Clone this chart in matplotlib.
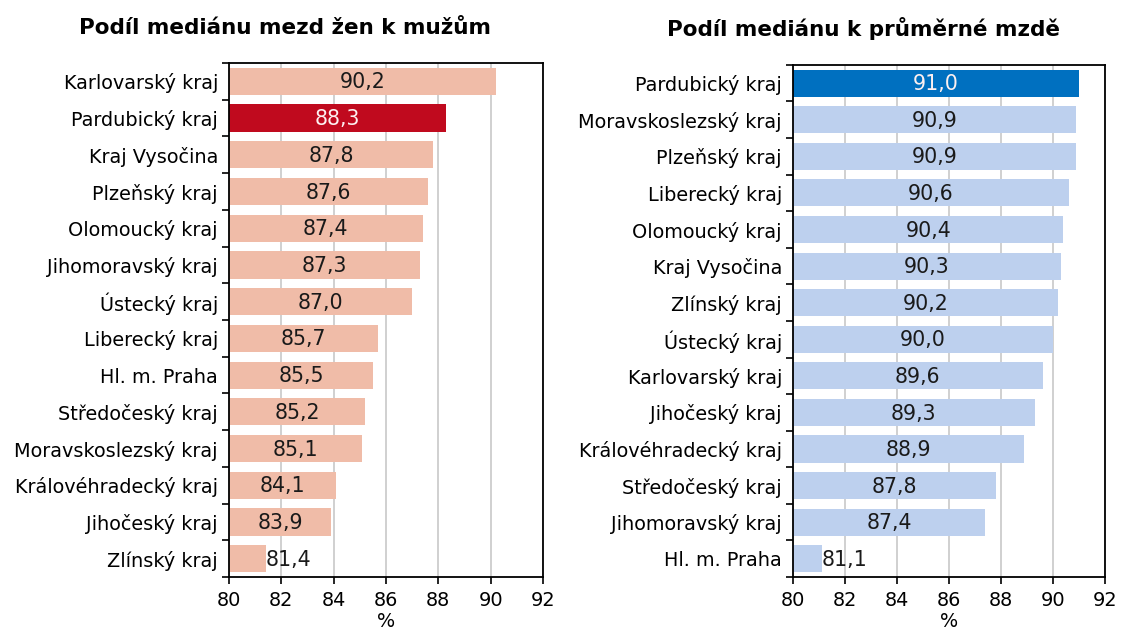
import matplotlib.pyplot as plt
import numpy as np

# Podíl mediánu mezd žen k mužům
kraje_l = ["Karlovarský kraj", "Pardubický kraj", "Kraj Vysočina", "Plzeňský kraj",
           "Olomoucký kraj", "Jihomoravský kraj", "Ústecký kraj", "Liberecký kraj",
           "Hl. m. Praha", "Středočeský kraj", "Moravskoslezský kraj",
           "Královéhradecký kraj", "Jihočeský kraj", "Zlínský kraj"]
hodnoty_l = [90.2, 88.3, 87.8, 87.6, 87.4, 87.3, 87.0, 85.7, 85.5, 85.2, 85.1, 84.1, 83.9, 81.4]

# Podíl mediánu k průměrné mzdě
kraje_r = ["Pardubický kraj", "Moravskoslezský kraj", "Plzeňský kraj", "Liberecký kraj",
           "Olomoucký kraj", "Kraj Vysočina", "Zlínský kraj", "Ústecký kraj",
           "Karlovarský kraj", "Jihočeský kraj", "Královéhradecký kraj",
           "Středočeský kraj", "Jihomoravský kraj", "Hl. m. Praha"]
hodnoty_r = [91.0, 90.9, 90.9, 90.6, 90.4, 90.3, 90.2, 90.0, 89.6, 89.3, 88.9, 87.8, 87.4, 81.1]

ZVYRAZNIT = "Pardubický kraj"
XMIN, XMAX = 80, 92
FS = 13.9

plt.rcParams['font.family'] = ['DejaVu Sans']

fig = plt.figure(figsize=(11.21, 6.32), dpi=100)
ax1 = fig.add_axes([0.2043, 0.087, 0.2801, 0.8133])
ax2 = fig.add_axes([0.7074, 0.087, 0.2783, 0.8103])


def kresli(ax, kraje, hodnoty, svetla, tmava):
    n = len(kraje)
    y = np.arange(n)
    barvy = [tmava if k == ZVYRAZNIT else svetla for k in kraje]
    ax.barh(y, [v - XMIN for v in hodnoty], left=XMIN, height=0.74,
            color=barvy, zorder=2)
    ax.set_xlim(XMIN, XMAX)
    ax.set_ylim(n - 0.5, -0.5)
    ax.set_xticks(range(XMIN, XMAX + 1, 2))
    ax.grid(axis="x", color="#c8c8c8", linewidth=1.2, zorder=0)
    ax.set_axisbelow(True)
    ax.set_yticks(np.arange(-0.5, n, 1))
    ax.set_yticklabels([])
    ax.set_yticks(y, minor=True)
    ax.set_yticklabels(kraje, minor=True, fontsize=FS)
    ax.tick_params(axis="y", which="minor", length=0, pad=8)
    ax.tick_params(axis="y", which="major", length=5, width=1.2)
    ax.tick_params(axis="x", length=5, width=1.2, labelsize=FS, pad=5)
    ax.set_xlabel("%", fontsize=FS)
    ax.xaxis.set_label_coords(0.5, -0.068)
    for s in ax.spines.values():
        s.set_linewidth(1.3)
    for i, (k, v) in enumerate(zip(kraje, hodnoty)):
        txt = f"{v:.1f}".replace(".", ",")
        c = "#fdf0f0" if k == ZVYRAZNIT else "#1a1a1a"
        if v - XMIN < 2:
            ax.text(v, i + 0.03, txt, ha="left", va="center", fontsize=14.8, color=c, zorder=3)
        else:
            ax.text((XMIN + v) / 2, i + 0.03, txt, ha="center", va="center",
                    fontsize=14.8, color=c, zorder=3)


kresli(ax1, kraje_l, hodnoty_l, "#f0bca8", "#c00a1e")
kresli(ax2, kraje_r, hodnoty_r, "#bdd0ee", "#0070c0")

fig.text(0.254, 0.955, "Podíl mediánu mezd žen k mužům", ha="center", va="center",
         fontsize=15.5, fontweight="bold")
fig.text(0.77, 0.955, "Podíl mediánu k průměrné mzdě", ha="center", va="center",
         fontsize=15.5, fontweight="bold")

fig.savefig("out.png", dpi=100)
